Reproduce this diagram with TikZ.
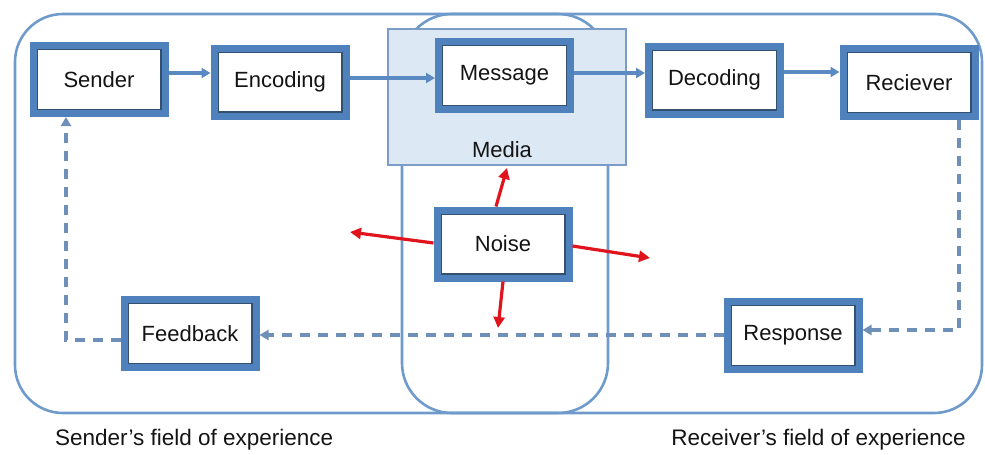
\documentclass[tikz,border=0pt]{standalone}
\usepackage{fontspec}
\setmainfont{Liberation Sans}
\usetikzlibrary{arrows.meta}

\definecolor{boxblue}{HTML}{4F81BD}
\definecolor{edgedark}{HTML}{33506F}
\definecolor{framecol}{HTML}{6E9BCB}
\definecolor{flowcol}{HTML}{5B8AC2}
\definecolor{fbcol}{HTML}{6D8FB8}
\definecolor{mediafill}{HTML}{DCE8F4}
\definecolor{mediaedge}{HTML}{7A9CC6}
\definecolor{noisered}{HTML}{E0141C}
\definecolor{txt}{HTML}{141414}

\tikzset{
  x=1pt, y=-1pt,
  blk/.style={rectangle, draw=boxblue, line width=7pt, fill=white,
    minimum width=132pt, minimum height=68pt, inner sep=0pt,
    font=\fontsize{22}{25}\selectfont, text=txt,
    path picture={\draw[edgedark, line width=1.4pt]
      ([shift={(4.2pt,-4.2pt)}]path picture bounding box.north west) rectangle
      ([shift={(-4.2pt,4.2pt)}]path picture bounding box.south east);}},
  frame/.style={draw=framecol, line width=2.6pt},
  mediabox/.style={rectangle, draw=mediaedge, line width=2pt, fill=mediafill,
    minimum width=238pt, minimum height=136pt, inner sep=0pt},
  lbl/.style={font=\fontsize{22}{25}\selectfont, text=txt, inner sep=0pt},
  fieldcaption/.style={font=\fontsize{22.5}{26}\selectfont, text=txt, inner sep=0pt},
  flow/.style={draw=flowcol, line width=3.2pt, -{Triangle[length=9pt,width=10pt]}},
  fb/.style={draw=fbcol, line width=3.4pt, dash pattern=on 10pt off 8pt,
    -{Triangle[length=9pt,width=10pt]}},
  noisy/.style={draw=noisered, line width=3.2pt, -{Triangle[length=11pt,width=11pt]}},
}

\begin{document}
\begin{tikzpicture}
\useasboundingbox (0,0) rectangle (985,455);

% fields of experience and the shared channel
\draw[frame, rounded corners=48pt] (15,14) rectangle (982,413);
\draw[frame, rounded corners=50pt] (402,14) rectangle (608,413);

% media panel
\node[mediabox] (media) at (507,97) {};
\node[lbl] (medialbl) at (502,150) {Media};

% blocks
\node[blk] (sender)   at (99,79.5)  {Sender};
\node[blk] (encoding) at (280,82)   {Encoding};
\node[blk] (message)  at (504.5,75.5) {Message};
\node[blk] (decoding) at (714.5,80) {Decoding};
\node[blk] (reciever) at (909,82.5) {Reciever};
\node[blk] (noise)    at (503,244)  {Noise};
\node[blk] (feedback) at (190,333.5) {Feedback};
\node[blk] (response) at (793,335.5) {Response};

% forward path
\draw[flow] (sender.east |- 0,73) -- (encoding.west |- 0,73);
\draw[flow] (encoding.east |- 0,78) -- (message.west |- 0,78);
\draw[flow] (message.east |- 0,73) -- (decoding.west |- 0,73);
\draw[flow] (decoding.east |- 0,72) -- (reciever.west |- 0,72);

% return path
\coordinate (rturn) at (959,330);
\coordinate (sturn) at (66,340);
\draw[fb] (reciever.south -| rturn) -- (rturn) -- (response.east |- rturn);
\draw[fb] (response.west |- 0,335) -- (feedback.east |- 0,335);
\draw[fb] (feedback.west |- sturn) -- (sturn) -- (sender.south -| sturn);

% noise interference
\coordinate (nup) at (507,168);
\coordinate (nleft) at (350,232);
\coordinate (nright) at (650,258);
\coordinate (ndown) at (498,328);
\draw[noisy] (noise.north -| 496,0) -- (nup);
\draw[noisy] (noise.west |- 0,243) -- (nleft);
\draw[noisy] (noise.east |- 0,246) -- (nright);
\draw[noisy] (noise.south -| 503,0) -- (ndown);

% captions
\node[fieldcaption, anchor=west] (sfield) at (55,440) {Sender’s field of experience};
\node[fieldcaption, anchor=east] (rfield) at (966,440) {Receiver’s field of experience};
\end{tikzpicture}
\end{document}
